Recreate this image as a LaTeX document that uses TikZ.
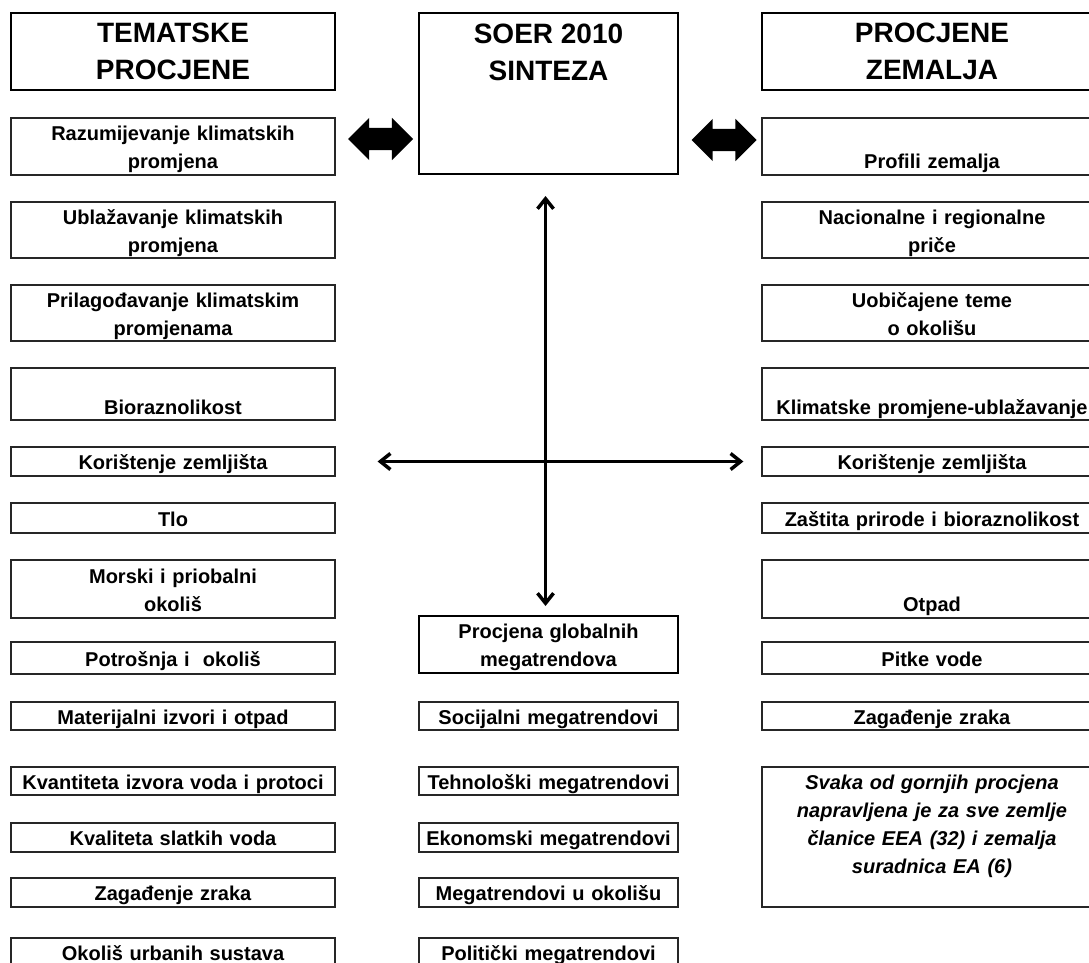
\documentclass[tikz,border=0pt]{standalone}
\usepackage{fontspec}
\setmainfont{Liberation Sans}
\usetikzlibrary{arrows.meta, shapes.arrows}
\tikzset{
    headtext/.style={align=center, inner sep=0pt, font=\bfseries\fontsize{28}{37}\selectfont},
    headbox/.style={headtext, draw=black, line width=2pt},
    itembox/.style={draw=black!85, line width=1.2pt, align=center, inner sep=0pt,
        minimum width=#1, text width=#1-6,
        font=\bfseries\fontsize{20}{28}\selectfont,
        execute at begin node=\rule{0pt}{22pt}, execute at end node=\rule[-6pt]{0pt}{6pt}},
    bigarrow/.style={line width=3.5pt, {Straight Barb[length=10pt,width=16pt]}-{Straight Barb[length=10pt,width=16pt]}},
    fatarrow/.style={double arrow, fill=black, draw=none, inner sep=0pt, text height=11pt, text depth=11pt,
        minimum height=65pt, double arrow head extend=10pt, double arrow tip angle=90}
}

\begin{document}
\begin{tikzpicture}[x=1pt, y=-1pt]
    \newcommand\posL{173}
    \newcommand\posC{548.5}
    \newcommand\posR{932}
    \newcommand\wL{324}
    \newcommand\wC{259}
    \newcommand\wR{340}

    \clip (0,0) rectangle (1089,963);
    \fill[white] (0,0) rectangle (1089,963);

    % left column
    \node[headbox, minimum width=\wL, minimum height=77] (tema) at (\posL, 51.5){TEMATSKE\\PROCJENE};
    \node[itembox=\wL, minimum height=57] (razum) at (\posL, 146.5){Razumijevanje klimatskih\\promjena};
    \node[itembox=\wL, minimum height=56] (ublaz) at (\posL, 230){Ublažavanje klimatskih\\promjena};
    \node[itembox=\wL, minimum height=56] (prilag) at (\posL, 313){Prilagođavanje klimatskim\\promjenama};
    \node[itembox=\wL, minimum height=52] (biora) at (\posL, 394){~\\[-4pt]Bioraznolikost};
    \node[itembox=\wL, minimum height=29] (korist) at (\posL, 461.5){Korištenje zemljišta};
    \node[itembox=\wL, minimum height=30] (tlo) at (\posL, 518){Tlo};
    \node[itembox=\wL, minimum height=58] (morski) at (\posL, 589){Morski i priobalni\\okoliš};
    \node[itembox=\wL, minimum height=32] (potros) at (\posL, 658){Potrošnja i\ \ okoliš};
    \node[itembox=\wL, minimum height=28] (mater) at (\posL, 716){Materijalni izvori i otpad};
    \node[itembox=\wL, minimum height=28] (kvant) at (\posL, 781){Kvantiteta izvora voda i protoci};
    \node[itembox=\wL, minimum height=29] (kvalit) at (\posL, 837.5){Kvaliteta slatkih voda};
    \node[itembox=\wL, minimum height=29] (zagad) at (\posL, 892.5){Zagađenje zraka};
    \node[itembox=\wL, minimum height=29] (urban) at (\posL, 952.5){Okoliš urbanih sustava};

    % centre column
    \node[headbox, minimum width=\wC, minimum height=161] (soer) at (\posC, 93.5){};
    \node[headtext, anchor=north] (soertxt) at ([yshift=-12pt]soer.north){SOER 2010\\SINTEZA};
    \node[itembox=\wC, line width=2pt, draw=black, minimum height=57] (procglob) at (\posC, 644.5){Procjena globalnih\\megatrendova};
    \node[itembox=\wC, minimum height=28] (socijal) at (\posC, 716){Socijalni megatrendovi};
    \node[itembox=\wC, minimum height=28] (tehnol) at (\posC, 781){Tehnološki megatrendovi};
    \node[itembox=\wC, minimum height=29] (ekonom) at (\posC, 837.5){Ekonomski megatrendovi};
    \node[itembox=\wC, minimum height=29] (okol) at (\posC, 892.5){Megatrendovi u okolišu};
    \node[itembox=\wC, minimum height=29] (polit) at (\posC, 952.5){Politički megatrendovi};

    % right column
    \node[headbox, minimum width=\wR, minimum height=77] (procz) at (\posR, 51.5){PROCJENE\\ZEMALJA};
    \node[itembox=\wR, minimum height=57] (profili) at (\posR, 146.5){~\\Profili zemalja};
    \node[itembox=\wR, minimum height=56] (nacion) at (\posR, 230){Nacionalne i regionalne\\priče};
    \node[itembox=\wR, minimum height=56] (uobic) at (\posR, 313){Uobičajene teme\\o okolišu};
    \node[itembox=\wR, minimum height=52] (klimat) at (\posR, 394){~\\[-4pt]Klimatske promjene-ublažavanje};
    \node[itembox=\wR, minimum height=29] (korist2) at (\posR, 461.5){Korištenje zemljišta};
    \node[itembox=\wR, minimum height=30] (zastita) at (\posR, 518){Zaštita prirode i bioraznolikost};
    \node[itembox=\wR, minimum height=58] (otpad) at (\posR, 589){~\\Otpad};
    \node[itembox=\wR, minimum height=32] (pitke) at (\posR, 658){Pitke vode};
    \node[itembox=\wR, minimum height=28] (zagad2) at (\posR, 716){Zagađenje zraka};
    \node[itembox=\wR, minimum height=140, font=\bfseries\itshape\fontsize{20}{28}\selectfont] (svaka) at (\posR, 837){Svaka od gornjih procjena\\napravljena je za sve zemlje\\članice EEA (32) i zemalja\\suradnica EA (6)\\};

    % arrows
    \node[fatarrow] (dblL) at (380.5, 139){};
    \node[fatarrow] (dblR) at (724, 140){};
    \draw[bigarrow, shorten <=21pt, shorten >=9pt] ([xshift=-3pt]soer.south) -- ([xshift=-3pt]procglob.north);
    \draw[bigarrow, shorten <=42pt, shorten >=18pt] (korist.east) -- (korist2.west);
\end{tikzpicture}
\end{document}
